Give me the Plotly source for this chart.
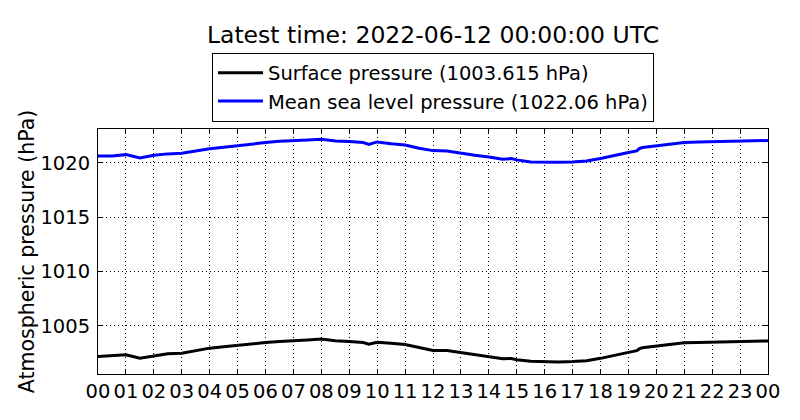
import pandas as pd
import plotly.graph_objects as go

# readings, minutes after 2022-06-11 00:00 UTC
minutes = [0, 30, 60, 90, 120, 150, 180, 210, 240, 270, 300, 330, 360, 390,
           420, 450, 480, 510, 540, 570, 582, 600, 630, 660, 690, 720, 750,
           780, 810, 840, 870, 888, 900, 930, 960, 990, 1020, 1050, 1080,
           1110, 1140, 1158, 1164, 1170, 1200, 1230, 1260, 1290, 1320, 1350,
           1380, 1410, 1440]

msl = [1020.64, 1020.64, 1020.76, 1020.46, 1020.70, 1020.83, 1020.89, 1021.13,
       1021.31, 1021.44, 1021.59, 1021.77, 1021.87, 1021.99, 1022.08, 1022.11,
       1022.17, 1022.02, 1021.96, 1021.87, 1021.71, 1021.93, 1021.77, 1021.65,
       1021.35, 1021.13, 1021.10, 1020.89, 1020.70, 1020.55, 1020.34, 1020.40,
       1020.28, 1020.09, 1020.06, 1020.06, 1020.09, 1020.18, 1020.40, 1020.70,
       1020.95, 1021.10, 1021.33, 1021.41, 1021.56, 1021.71, 1021.87, 1021.93,
       1021.96, 1021.99, 1022.02, 1022.05, 1022.06]

surface = [1002.19, 1002.25, 1002.34, 1002.03, 1002.25, 1002.43, 1002.49, 1002.74,
           1002.95, 1003.07, 1003.20, 1003.38, 1003.47, 1003.56, 1003.66, 1003.69,
           1003.78, 1003.63, 1003.56, 1003.47, 1003.32, 1003.50, 1003.41, 1003.29,
           1003.01, 1002.74, 1002.74, 1002.56, 1002.38, 1002.19, 1001.98, 1002.00,
           1001.89, 1001.74, 1001.68, 1001.68, 1001.71, 1001.80, 1002.01, 1002.32,
           1002.56, 1002.72, 1002.90, 1002.98, 1003.14, 1003.29, 1003.44, 1003.47,
           1003.50, 1003.56, 1003.62, 1003.62, 1003.615]

start = pd.Timestamp('2022-06-11 00:00:00')
times = [start + pd.Timedelta(minutes=m) for m in minutes]

font = 'DejaVu Sans'

fig = go.Figure()
fig.add_trace(go.Scatter(x=times, y=surface, mode='lines',
                         line=dict(color='black', width=3),
                         name='Surface pressure (%s hPa)' % surface[-1]))
fig.add_trace(go.Scatter(x=times, y=msl, mode='lines',
                         line=dict(color='blue', width=3),
                         name='Mean sea level pressure (%s hPa)' % msl[-1]))

axis = dict(showline=True, linecolor='black', linewidth=1, mirror='ticks',
            ticks='inside', ticklen=5, tickcolor='black',
            showgrid=True, gridcolor='black', griddash='1px,3px', gridwidth=1,
            zeroline=False, tickfont=dict(size=19.5, color='black', family=font))

fig.update_xaxes(axis, range=[start, start + pd.Timedelta(hours=24)],
                 dtick=3600000, tickformat='%H', tickangle=0)
fig.update_yaxes(axis, range=[1000.57, 1023.12], tickvals=[1005, 1010, 1015, 1020],
                 ticklabelstandoff=3,
                 title=dict(text='Atmospheric pressure (hPa)',
                            font=dict(size=20.5, color='black', family=font),
                            standoff=0))

# the page body adds an 8px margin, so the layout is shifted up-left by 8px
fig.update_layout(width=800, height=420,
                  margin=dict(l=90, r=40, t=121, b=54),
                  plot_bgcolor='white', paper_bgcolor='white',
                  font=dict(family=font, color='black'),
                  title=dict(text='Latest time: 2022-06-12 00:00:00 UTC',
                             xref='paper', x=0.5, xanchor='center',
                             y=0.936, yanchor='middle',
                             font=dict(size=23.5, color='black', family=font)),
                  legend=dict(x=0.5, xanchor='center', y=1.312, yanchor='top',
                              bordercolor='black', borderwidth=1,
                              font=dict(size=19.5, color='black', family=font),
                              itemwidth=45, tracegroupgap=0),
                  showlegend=True)

fig.write_html('out.html')
